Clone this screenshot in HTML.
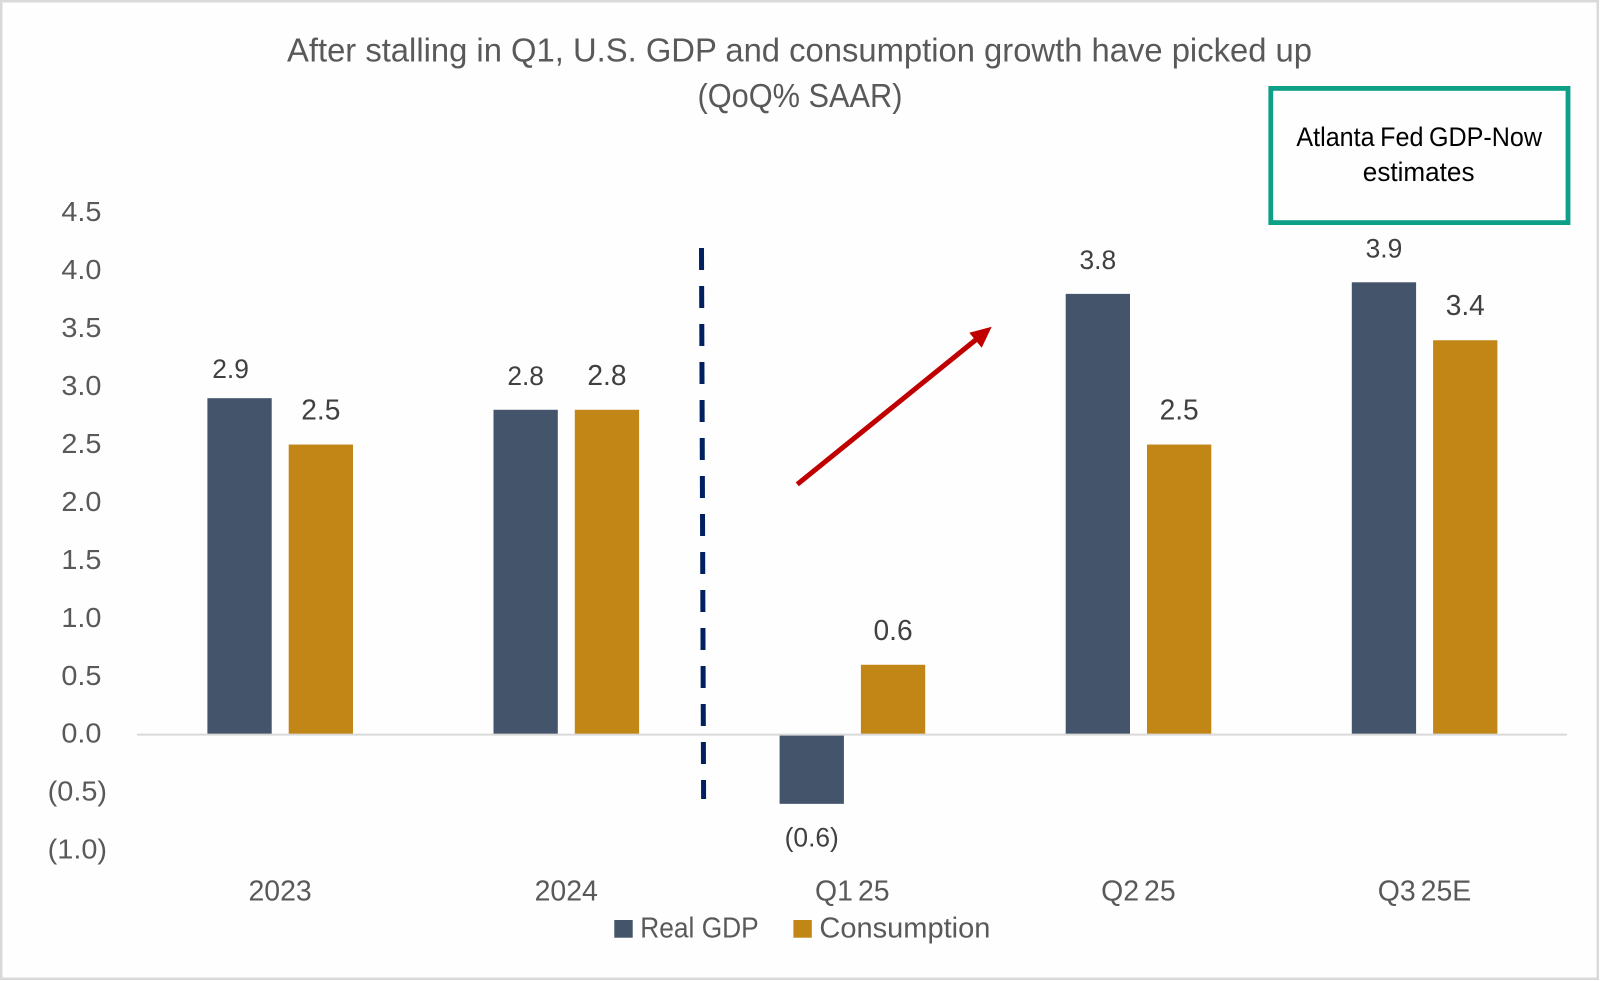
<!DOCTYPE html>
<html lang="en">
<head>
<meta charset="utf-8">
<title>U.S. GDP and consumption growth</title>
<style>
  html, body { margin: 0; padding: 0; background: #fff; }
  body { width: 1600px; height: 981px; overflow: hidden; }
  svg { display: block; font-family: "Liberation Sans", sans-serif; }
</style>
</head>
<body>
<svg id="chart" xmlns="http://www.w3.org/2000/svg" width="1600" height="981" viewBox="0 0 1600 981">
  <rect x="1.2" y="1.2" width="1596.6" height="977.6" fill="#fefefe" stroke="#d9d9d9" stroke-width="2.5"/>
  <text x="287" y="61.5" font-size="33.5" fill="#595959" textLength="1025" lengthAdjust="spacingAndGlyphs">After stalling in Q1, U.S. GDP and consumption growth have picked up</text>
  <text x="697.5" y="107" font-size="33.5" fill="#595959" textLength="205" lengthAdjust="spacingAndGlyphs">(QoQ% SAAR)</text>
  <g id="y-axis"></g>
  <g id="bars"></g>
  <line x1="137" y1="734.6" x2="1567" y2="734.6" stroke="#d9d9d9" stroke-width="2"/>
  <g id="bar-labels"></g>
  <g id="x-axis"></g>
  <line x1="701.5" y1="248" x2="703.6" y2="799" stroke="#002060" stroke-width="5" stroke-dasharray="22 16"/>
  <g>
    <line x1="797.3" y1="484.3" x2="978" y2="338" stroke="#c00000" stroke-width="5"/>
    <polygon points="991.7,326.7 969.3,332.7 981.7,347.7" fill="#c00000"/>
  </g>
  <g>
    <rect x="1270.8" y="88.4" width="297.2" height="134.2" fill="none" stroke="#0e9f87" stroke-width="4.8"/>
    <text x="1296.4" y="146" font-size="26.5" word-spacing="-1.5" fill="#000" textLength="245.6" lengthAdjust="spacingAndGlyphs">Atlanta Fed GDP-Now</text>
    <text x="1362.8" y="181" font-size="26.5" fill="#000" textLength="111.7" lengthAdjust="spacingAndGlyphs">estimates</text>
  </g>
  <g>
    <g>
      <rect x="614.3" y="920" width="18.4" height="17.7" fill="#44546a"/>
      <text x="640.3" y="937.3" font-size="29" fill="#595959" textLength="118.4" lengthAdjust="spacingAndGlyphs">Real GDP</text>
    </g>
    <g>
      <rect x="793.4" y="920" width="18.4" height="17.7" fill="#c18616"/>
      <text x="819.4" y="937.3" font-size="29" fill="#595959" textLength="171" lengthAdjust="spacingAndGlyphs">Consumption</text>
    </g>
  </g>
</svg>
<script>
const categories = ['2023', '2024', 'Q1 25', 'Q2 25', 'Q3 25E'];
const realGdp = [2.9, 2.8, -0.6, 3.8, 3.9];
const consumption = [2.5, 2.8, 0.6, 2.5, 3.4];
const tickValues = [4.5, 4.0, 3.5, 3.0, 2.5, 2.0, 1.5, 1.0, 0.5, 0.0, -0.5, -1.0];

const SVG_NS = 'http://www.w3.org/2000/svg';
const ZERO_Y = 734.3;
const UNIT_PX = 115.9;
const FIRST_BAND = 280.1;
const BAND_STEP = 286.1;
const BAR_W = 64.3;
const GDP_OFFSET = -72.7;
const CONS_OFFSET = 8.6;

function yScale(v) { return ZERO_Y - v * UNIT_PX; }
function xBand(i) { return FIRST_BAND + i * BAND_STEP; }
function fmt(v) { return v < 0 ? '(' + Math.abs(v).toFixed(1) + ')' : v.toFixed(1); }
function slug(s) { return s.toLowerCase().replace(/[^a-z0-9]+/g, '-'); }

function makeText(parent, str, x, y, size, fill, anchor, stretch) {
  const t = document.createElementNS(SVG_NS, 'text');
  t.textContent = str;
  t.setAttribute('x', x);
  t.setAttribute('y', y);
  t.setAttribute('font-size', size);
  t.setAttribute('fill', fill);
  t.setAttribute('text-anchor', anchor);
  t.setAttribute('word-spacing', -size * 0.1);
  parent.appendChild(t);
  const w = t.getComputedTextLength();
  t.setAttribute('textLength', (w * stretch).toFixed(2));
  t.setAttribute('lengthAdjust', 'spacingAndGlyphs');
  return t;
}

const yAxis = document.getElementById('y-axis');
tickValues.forEach(function (v) {
  const t = makeText(yAxis, fmt(v), v < 0 ? 107 : 101.5, yScale(v) + 8.4, 28, '#595959', 'end', 1.03);
  
  
});

const xAxis = document.getElementById('x-axis');
categories.forEach(function (c, i) {
  const t = makeText(xAxis, c, xBand(i), 900.7, 29, '#595959', 'middle', 0.98);
  
  
});

const barsG = document.getElementById('bars');
const labelsG = document.getElementById('bar-labels');

realGdp.forEach(function (v, i) {
  const r = document.createElementNS(SVG_NS, 'rect');
  r.setAttribute('x', xBand(i) + GDP_OFFSET);
  r.setAttribute('y', Math.min(yScale(v), ZERO_Y));
  r.setAttribute('width', BAR_W);
  r.setAttribute('height', Math.abs(yScale(v) - ZERO_Y));
  r.setAttribute('fill', '#44546a');
  
  
  barsG.appendChild(r);

  const cx = xBand(i) + GDP_OFFSET + BAR_W / 2;
  const nudge = i === 0;
  const lx = nudge ? cx - 9 : cx;
  const ly = v < 0 ? yScale(v) + 42.5 : yScale(v) - (nudge ? 20 : 24.7);
  const t = makeText(labelsG, fmt(v), lx, ly, 26.5, '#404040', 'middle', 0.995);
  
  
});

consumption.forEach(function (v, i) {
  const r = document.createElementNS(SVG_NS, 'rect');
  r.setAttribute('x', xBand(i) + CONS_OFFSET);
  r.setAttribute('y', Math.min(yScale(v), ZERO_Y));
  r.setAttribute('width', BAR_W);
  r.setAttribute('height', Math.abs(yScale(v) - ZERO_Y));
  r.setAttribute('fill', '#c18616');
  
  
  barsG.appendChild(r);

  const cx = xBand(i) + CONS_OFFSET + BAR_W / 2;
  const ly = v < 0 ? yScale(v) + 44 : yScale(v) - 25;
  const t = makeText(labelsG, fmt(v), cx, ly, 29, '#404040', 'middle', 0.97);
  
  
});
</script>
</body>
</html>
